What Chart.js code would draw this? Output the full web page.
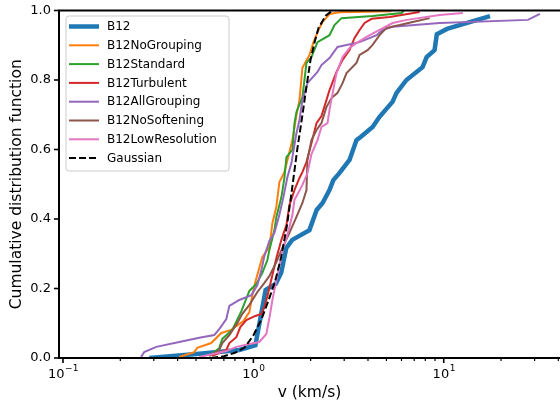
<!DOCTYPE html>
<html>
<head>
<meta charset="utf-8">
<script src="https://cdn.jsdelivr.net/npm/chart.js@4.4.0/dist/chart.umd.min.js"></script>
<style>
  html, body { margin: 0; padding: 0; background: #fff; }
  #wrap { width: 560px; height: 407px; }
</style>
</head>
<body>
<div id="wrap"><canvas id="cdf" width="560" height="407"></canvas></div>
<script>
// ── Data ─────────────────────────────────────────────────────────────────────
const b12V = [0.284, 0.52, 0.844, 1.025, 1.06, 1.16, 1.31, 1.40, 1.49, 1.60, 1.97, 2.15, 2.31, 2.51, 2.63, 2.83, 3.2, 3.48, 3.66, 4.23, 4.6, 5.38, 5.65, 6.37, 7.74, 8.13, 8.95, 9.2, 10.4, 17.5];
const b12F = [0, 0.012, 0.023, 0.037, 0.08, 0.196, 0.213, 0.245, 0.317, 0.34, 0.368, 0.426, 0.446, 0.483, 0.512, 0.532, 0.57, 0.627, 0.636, 0.665, 0.694, 0.737, 0.763, 0.8, 0.837, 0.866, 0.886, 0.932, 0.947, 0.984];

const noGroupV = [0.408, 0.489, 0.507, 0.601, 0.679, 0.766, 0.886, 0.953, 0.988, 1.024, 1.115, 1.214, 1.259, 1.321, 1.37, 1.456, 1.547, 1.604, 1.684, 1.746, 1.81, 1.971, 2.07, 2.172, 2.307, 2.512, 2.836, 5.32];
const noGroupF = [0.003, 0.017, 0.029, 0.043, 0.072, 0.081, 0.106, 0.132, 0.181, 0.219, 0.291, 0.319, 0.388, 0.435, 0.506, 0.535, 0.593, 0.627, 0.699, 0.742, 0.835, 0.872, 0.909, 0.938, 0.967, 0.99, 0.995, 0.998];

const standardV = [0.587, 0.662, 0.687, 0.775, 0.865, 0.953, 1.037, 1.115, 1.185, 1.214, 1.29, 1.321, 1.404, 1.456, 1.492, 1.604, 1.644, 1.684, 1.81, 1.901, 2.02, 2.172, 2.512, 2.668, 2.904, 4.23, 6.01, 6.16];
const standardF = [0.006, 0.029, 0.055, 0.081, 0.135, 0.193, 0.213, 0.245, 0.282, 0.311, 0.368, 0.406, 0.463, 0.518, 0.578, 0.599, 0.676, 0.708, 0.751, 0.849, 0.866, 0.909, 0.929, 0.958, 0.978, 0.984, 0.993, 0.999];

const turbV = [0.608, 0.721, 0.748, 0.814, 0.854, 0.919, 1.024, 1.102, 1.143, 1.185, 1.259, 1.321, 1.404, 1.492, 1.547, 1.644, 1.746, 1.81, 1.901, 2.02, 2.146, 2.279, 2.42, 2.512, 2.734, 2.941, 3.2, 3.4, 3.614, 3.84, 4.18, 5.2, 7.47];
const turbF = [0.006, 0.023, 0.043, 0.06, 0.089, 0.109, 0.121, 0.127, 0.147, 0.178, 0.239, 0.288, 0.34, 0.383, 0.44, 0.483, 0.518, 0.535, 0.564, 0.619, 0.676, 0.696, 0.742, 0.771, 0.823, 0.858, 0.886, 0.921, 0.944, 0.964, 0.976, 0.981, 0.996];

const allGroupV = [0.257, 0.267, 0.309, 0.408, 0.52, 0.623, 0.662, 0.721, 0.748, 0.844, 0.976, 1.05, 1.102, 1.143, 1.214, 1.29, 1.37, 1.438, 1.51, 1.585, 1.684, 1.746, 1.81, 1.923, 2.172, 2.279, 2.512, 2.768, 3.614, 4.44, 4.77, 5.39, 9.53, 27.7, 32.0];
const allGroupF = [0.003, 0.017, 0.032, 0.046, 0.058, 0.066, 0.083, 0.112, 0.15, 0.167, 0.181, 0.21, 0.253, 0.294, 0.337, 0.36, 0.412, 0.463, 0.521, 0.561, 0.647, 0.685, 0.742, 0.791, 0.823, 0.843, 0.863, 0.895, 0.909, 0.929, 0.944, 0.953, 0.964, 0.973, 0.99];

const noSoftV = [0.587, 0.662, 0.687, 0.748, 0.824, 0.875, 0.953, 1.05, 1.143, 1.214, 1.321, 1.421, 1.547, 1.684, 1.81, 1.901, 1.923, 2.02, 2.146, 2.279, 2.42, 2.573, 2.768, 2.941, 3.087, 3.48, 3.614, 3.98, 4.23, 4.6, 5.01, 5.87, 6.87, 8.44];
const noSoftF = [0.006, 0.023, 0.043, 0.066, 0.101, 0.127, 0.153, 0.19, 0.216, 0.236, 0.276, 0.317, 0.36, 0.406, 0.446, 0.483, 0.57, 0.627, 0.656, 0.676, 0.722, 0.748, 0.763, 0.791, 0.82, 0.849, 0.872, 0.886, 0.901, 0.929, 0.95, 0.958, 0.967, 0.978];

const lowResV = [0.52, 0.721, 0.814, 0.953, 1.075, 1.17, 1.214, 1.259, 1.321, 1.37, 1.421, 1.492, 1.547, 1.604, 1.644, 1.746, 1.81, 1.923, 2.02, 2.172, 2.279, 2.452, 2.512, 2.668, 2.734, 2.941, 3.2, 3.48, 3.93, 4.6, 5.39, 6.39, 9.53, 12.6];
const lowResF = [0.003, 0.02, 0.032, 0.04, 0.046, 0.069, 0.115, 0.167, 0.224, 0.265, 0.311, 0.345, 0.377, 0.412, 0.455, 0.481, 0.498, 0.532, 0.587, 0.627, 0.665, 0.676, 0.714, 0.791, 0.82, 0.866, 0.892, 0.906, 0.924, 0.944, 0.964, 0.973, 0.987, 0.993];

const gaussV = [0.6, 0.7, 0.8, 0.9, 1.0, 1.1, 1.2, 1.3, 1.4, 1.5, 1.6, 1.7, 1.8, 1.9, 2.0, 2.1, 2.2, 2.4, 2.6];
const gaussF = [0, 0.005, 0.015, 0.03, 0.065, 0.11, 0.165, 0.22, 0.29, 0.38, 0.49, 0.6, 0.69, 0.78, 0.86, 0.91, 0.95, 0.985, 1.0];

// tick positions: major at the decades, minor in between
const xMajor = [0.1, 1, 10];
const xMajorLabels = [['10', '\u22121'], ['10', '0'], ['10', '1']];
const xMinor = [0.2, 0.3, 0.4, 0.5, 0.6, 0.7, 0.8, 0.9, 2, 3, 4, 5, 6, 7, 8, 9, 20, 30, 40];
const yTicks = [0, 0.2, 0.4, 0.6, 0.8, 1.0];

// ── Helpers ──────────────────────────────────────────────────────────────────
const FONT = 'DejaVu Sans';

function pts(vs, fs) {
  return vs.map((v, i) => ({ x: v, y: fs[i] }));
}

function series(label, vs, fs, color, width, order, dash) {
  return {
    label,
    data: pts(vs, fs),
    borderColor: color,
    backgroundColor: color,
    borderWidth: width,
    borderDash: dash || [],
    pointRadius: 0,
    tension: 0,
    fill: false,
    order,
  };
}

const datasets = [
  series('B12',              b12V,      b12F,      '#1f77b4', 4.5, 7),
  series('B12NoGrouping',    noGroupV,  noGroupF,  '#ff7f0e', 2, 6),
  series('B12Standard',      standardV, standardF, '#2ca02c', 2, 5),
  series('B12Turbulent',     turbV,     turbF,     '#d62728', 2, 4),
  series('B12AllGrouping',   allGroupV, allGroupF, '#9467bd', 2, 3),
  series('B12NoSoftening',   noSoftV,   noSoftF,   '#8c564b', 2, 2),
  series('B12LowResolution', lowResV,   lowResF,   '#e377c2', 2, 1),
  series('Gaussian',         gaussV,    gaussF,    '#000000', 2, 0, [7, 3]),
];

// ── Spines, ticks, x labels and legend ───────────────────────────────────────
const frame = {
  id: 'frame',
  afterDraw(chart) {
    const { ctx, chartArea: a, scales: { x, y } } = chart;
    ctx.save();
    ctx.strokeStyle = '#000';
    ctx.fillStyle = '#000';

    const tick = (px, len, lw) => {
      ctx.lineWidth = lw;
      ctx.beginPath();
      ctx.moveTo(px, a.bottom);
      ctx.lineTo(px, a.bottom + len);
      ctx.stroke();
    };

    xMinor.forEach(v => {
      const px = x.getPixelForValue(v);
      if (px <= a.right) tick(px, 3, 1.2);
    });

    xMajor.forEach((v, i) => {
      const px = x.getPixelForValue(v);
      tick(px, 5, 1.6);
      const [base, exp] = xMajorLabels[i];
      ctx.font = `13px "${FONT}"`;
      const w1 = ctx.measureText(base).width;
      ctx.font = `9px "${FONT}"`;
      const w2 = ctx.measureText(exp).width;
      const x0 = px - (w1 + w2) / 2;
      ctx.textAlign = 'left';
      ctx.textBaseline = 'alphabetic';
      ctx.font = `13px "${FONT}"`;
      ctx.fillText(base, x0, 378);
      ctx.font = `9px "${FONT}"`;
      ctx.fillText(exp, x0 + w1 + 0.5, 371);
    });

    // y ticks
    ctx.lineWidth = 1.6;
    yTicks.forEach(v => {
      const py = y.getPixelForValue(v);
      ctx.beginPath();
      ctx.moveTo(a.left, py);
      ctx.lineTo(a.left - 5, py);
      ctx.stroke();
    });

    // spines (left, bottom, top; right is outside the picture)
    ctx.lineWidth = 2;
    ctx.beginPath();
    ctx.moveTo(a.right + 2, a.top);
    ctx.lineTo(a.left, a.top);
    ctx.lineTo(a.left, a.bottom);
    ctx.lineTo(a.right + 2, a.bottom);
    ctx.stroke();

    // legend
    const lx = 66, ly = 16, lw = 163, lh = 155, r = 3;
    ctx.beginPath();
    ctx.moveTo(lx + r, ly);
    ctx.arcTo(lx + lw, ly, lx + lw, ly + lh, r);
    ctx.arcTo(lx + lw, ly + lh, lx, ly + lh, r);
    ctx.arcTo(lx, ly + lh, lx, ly, r);
    ctx.arcTo(lx, ly, lx + lw, ly, r);
    ctx.closePath();
    ctx.fillStyle = 'rgba(255,255,255,0.8)';
    ctx.fill();
    ctx.strokeStyle = '#cccccc';
    ctx.lineWidth = 1;
    ctx.stroke();

    ctx.font = `12px "${FONT}"`;
    ctx.textAlign = 'left';
    ctx.textBaseline = 'middle';
    chart.data.datasets.forEach((ds, i) => {
      const ry = 26.5 + i * 18.8;
      ctx.strokeStyle = ds.borderColor;
      ctx.lineWidth = ds.borderWidth;
      ctx.setLineDash(ds.borderDash);
      ctx.beginPath();
      ctx.moveTo(69, ry);
      ctx.lineTo(99, ry);
      ctx.stroke();
      ctx.setLineDash([]);
      ctx.fillStyle = '#000';
      ctx.fillText(ds.label, 107, ry + 0.5);
    });
    ctx.restore();
  }
};

// ── Chart ────────────────────────────────────────────────────────────────────
new Chart(document.getElementById('cdf'), {
  type: 'line',
  data: { datasets },
  options: {
    responsive: false,
    animation: false,
    layout: { padding: { top: 10.5, right: 0, bottom: 0, left: 0 } },
    plugins: { legend: { display: false }, tooltip: { enabled: false } },
    scales: {
      x: {
        type: 'logarithmic',
        min: 0.0953,
        max: 40.8,
        grid: { display: false, drawTicks: false },
        border: { display: false },
        ticks: { display: false },
        title: {
          display: true,
          text: 'v (km/s)',
          color: '#000',
          font: { family: FONT, size: 15.5 },
          padding: { top: 0, bottom: 5 },
        },
        afterFit: s => {
          s.height = 49;
          s.paddingLeft = 0;
          s.paddingRight = 0;
        },
      },
      y: {
        type: 'linear',
        min: 0,
        max: 1,
        afterBuildTicks: s => { s.ticks = yTicks.map(v => ({ value: v })); },
        ticks: {
          callback: v => Number(v).toFixed(1),
          color: '#000',
          font: { family: FONT, size: 13 },
          padding: 8,
        },
        grid: { display: false, drawTicks: false },
        border: { display: false },
        title: {
          display: true,
          text: 'Cumulative distribution function',
          color: '#000',
          font: { family: FONT, size: 15.5 },
          padding: { top: 8, bottom: 0 },
        },
        afterFit: s => {
          s.width = 59;
          s.paddingTop = 0;
          s.paddingBottom = 0;
        },
      },
    },
  },
  plugins: [frame],
});
</script>
</body>
</html>
